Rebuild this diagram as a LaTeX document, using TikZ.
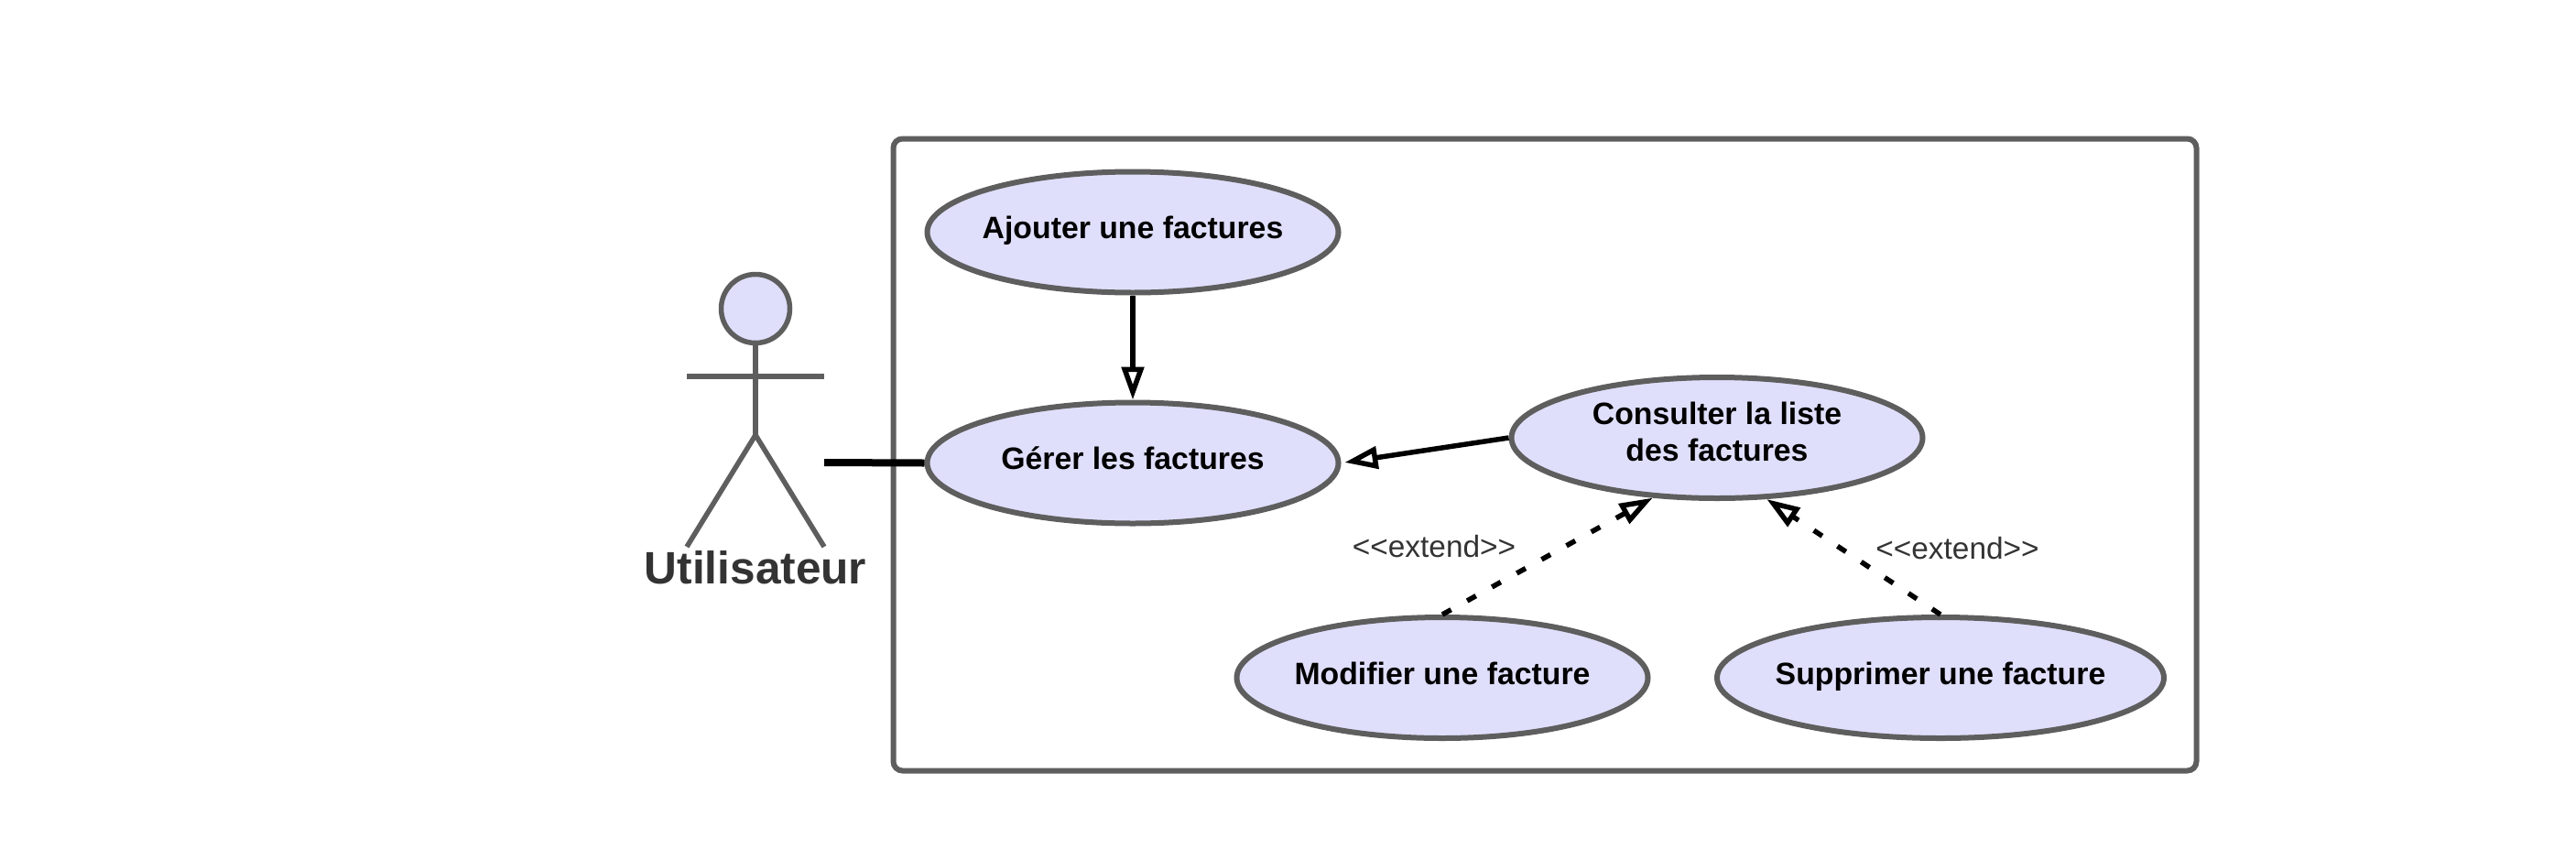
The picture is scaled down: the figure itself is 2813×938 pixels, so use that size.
\documentclass[tikz,border=0pt]{standalone}
\usepackage{xcolor}
\usepackage{fontspec}
\setmainfont{Liberation Sans}
\usepackage{tikz}
\usetikzlibrary{shapes.geometric,arrows.meta,positioning}
\definecolor{umlgray}{HTML}{5E5E5E}
\definecolor{umlfill}{HTML}{DFDFFC}
\definecolor{umltext}{HTML}{333333}
\tikzstyle{usecase} = [ellipse, draw=umlgray, fill=umlfill, line width=6pt, inner sep=0pt, inner xsep=-30pt, minimum width=449pt, minimum height=132pt, align=center, text height=24pt, text depth=10pt, font=\fontsize{33.8}{40}\selectfont\bfseries, text=black]
\tikzstyle{stick} = [draw=umlgray, line width=5.5pt]
\tikzstyle{line} = [draw, line width=5.5pt, -{Triangle[open, length=36pt, width=24pt]}]
\tikzstyle{extendline} = [line, dash pattern=on 11pt off 20pt]
\tikzstyle{stereotype} = [font=\fontsize{33.4}{40}\selectfont, text=umltext]

\begin{document}
\begin{tikzpicture}[x=1pt, y=-1pt, node distance=252pt]
    \useasboundingbox (0,0) rectangle (2813,938);
    \node [draw=umlgray, line width=6pt, rounded corners=10pt, minimum width=1423pt, minimum height=690pt, inner sep=0pt] (systeme) at (1687,496.5) {};

    \node [usecase] (ajouter) at (1237,253.5) {Ajouter une factures};
    \node [usecase, below of=ajouter] (gerer) {Gérer les factures};
    \node [usecase, text height=60pt] (consulter) at (1875,478) {Consulter la liste\\des factures};
    \node [usecase] (modifier) at (1575,740) {Modifier une facture};
    \node [usecase, minimum width=488pt] (supprimer) at (2119,740) {Supprimer une facture};

    \node [stereotype] (extendleft) at (1566,597) {<{}<extend>{}>};
    \node [stereotype] (extendright) at (2137.5,599) {<{}<extend>{}>};

    % actor
    \node [circle, draw=umlgray, fill=umlfill, line width=5.5pt, minimum size=75pt, inner sep=0pt] (tete) at (825,337) {};
    \coordinate (hanche) at (825,475);
    \coordinate (brasg) at (750,411);
    \coordinate (brasd) at (900,411);
    \coordinate (piedg) at (750,597);
    \coordinate (piedd) at (900,597);
    \coordinate (port) at (900,505);
    \node [font=\fontsize{49.6}{58}\selectfont\bfseries, text=umltext] (utilisateur) at (825,620) {Utilisateur};
    \path [stick] (tete) -- (hanche);
    \path [stick] (brasg) -- (brasd);
    \path [stick] (piedg) -- (hanche) -- (piedd);

    \path [draw, line width=8pt] (port) -- (gerer.west);
    \path [line] (ajouter) -- (gerer);
    \path [line, shorten >=4pt] (consulter.west) -- (gerer.east);
    \path [extendline] (modifier.north) -- (consulter.223);
    \path [extendline] (supprimer.north) -- (consulter.309);
\end{tikzpicture}
\end{document}
